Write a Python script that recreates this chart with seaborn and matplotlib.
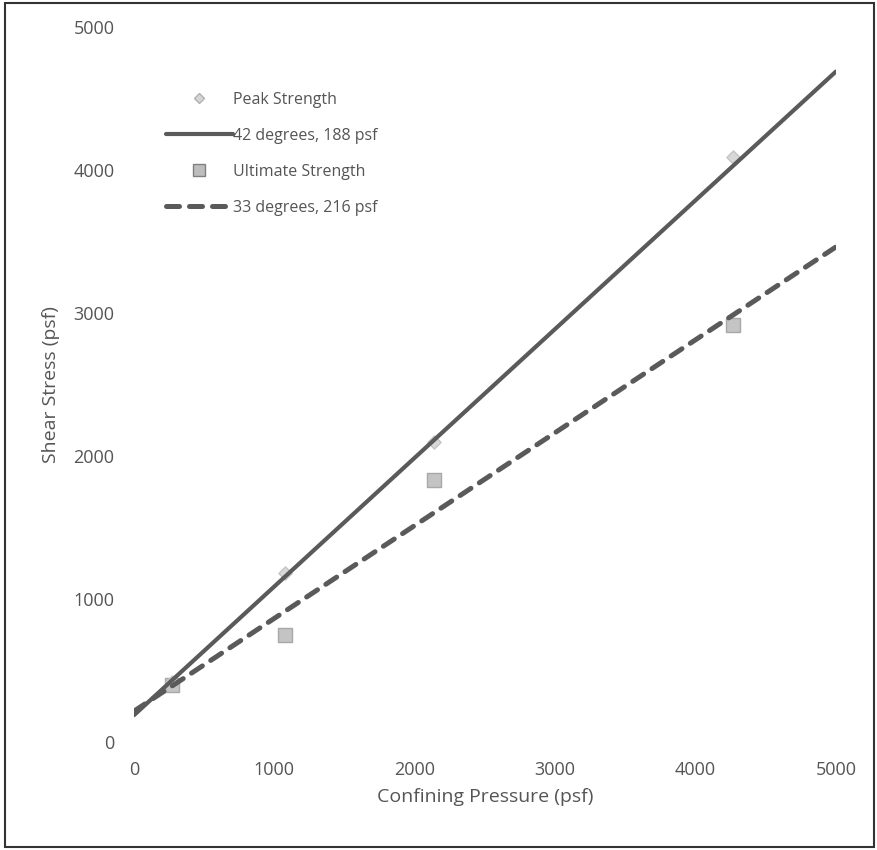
import matplotlib
matplotlib.use("Agg")
import matplotlib.pyplot as plt
import seaborn as sns
import pandas as pd
from matplotlib.lines import Line2D
from matplotlib.patches import Rectangle

# test results (psf)
peak_x = [270, 1075, 2140, 4270]
peak_y = [420, 1180, 2100, 4090]
ult_x = [270, 1075, 2140, 4270]
ult_y = [400, 750, 1830, 2920]

# fitted envelopes, end points
fit_x = [0, 5000]
peak_fit = [188, 4690]
ult_fit = [216, 3463]

ticks = [0, 1000, 2000, 3000, 4000, 5000]

sns.set_theme(style="white")
plt.rcParams['font.family'] = ['Open Sans', 'DejaVu Sans']

fig = plt.figure(figsize=(8.78, 8.5), dpi=100)
ax = fig.add_axes([0.1526, 0.127, 0.7995, 0.841])

peak_df = pd.DataFrame({"x": peak_x, "y": peak_y})
ult_df = pd.DataFrame({"x": ult_x, "y": ult_y})

# points first, the fit lines run over them
sns.scatterplot(data=ult_df, x="x", y="y", ax=ax, marker="s", s=110,
                color="#c4c4c4", edgecolor="#a8a8a8", linewidth=1, zorder=2)
sns.scatterplot(data=peak_df, x="x", y="y", ax=ax, marker="D", s=45,
                color="#d8d8d8", edgecolor="#c4c4c4", linewidth=1, zorder=2)
sns.lineplot(x=fit_x, y=peak_fit, ax=ax, color="#5a5a5a", linewidth=3.0,
             solid_capstyle="round", zorder=3)
sns.lineplot(x=fit_x, y=ult_fit, ax=ax, color="#5a5a5a", linewidth=3.6,
             linestyle=(0, (2.6, 2.0)), dash_capstyle="round", zorder=3)

ax.set_xlim(0, 5000)
ax.set_ylim(0, 5000)
ax.set_xticks(ticks)
ax.set_yticks(ticks)
ax.tick_params(axis="both", labelsize=13, colors="#555555", length=0, pad=14)
ax.set_xlabel("Confining Pressure (psf)", fontsize=14, color="#555555", labelpad=6)
ax.set_ylabel("Shear Stress (psf)", fontsize=14, color="#555555", labelpad=10)
for s in ax.spines.values():
    s.set_visible(False)
ax.grid(False)

handles = [
    Line2D([], [], linestyle="none", marker="D", markersize=5,
           markerfacecolor="#d6d6d6", markeredgecolor="#b0b0b0"),
    Line2D([], [], color="#5a5a5a", linewidth=3.0, solid_capstyle="round"),
    Line2D([], [], linestyle="none", marker="s", markersize=8,
           markerfacecolor="#bdbdbd", markeredgecolor="#808080"),
    Line2D([], [], color="#5a5a5a", linewidth=3.6, linestyle=(0, (2.6, 2.0)),
           dash_capstyle="round"),
]
labels = ["Peak Strength", "42 degrees, 188 psf", "Ultimate Strength", "33 degrees, 216 psf"]
leg = ax.legend(handles, labels, loc="upper left", bbox_to_anchor=(0.025, 0.93),
                frameon=False, fontsize=11.5, handlelength=4.2, handletextpad=0.0,
                labelspacing=1.25, labelcolor="#555555")

# outer border around the chart
fig.patches.append(Rectangle((0.006, 0.004), 0.99, 0.992, transform=fig.transFigure,
                             fill=False, edgecolor="#333333", linewidth=1.5))

fig.savefig("out.png", dpi=100)
